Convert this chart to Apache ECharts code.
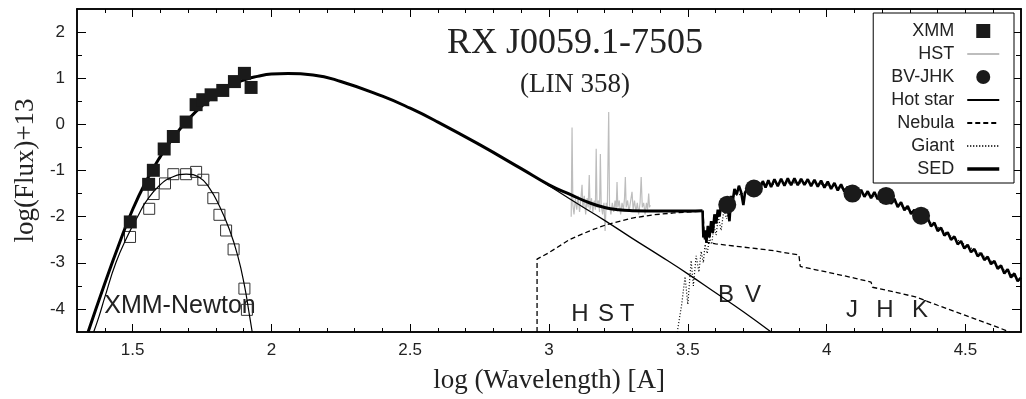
<!DOCTYPE html>
<html>
<head>
<meta charset="utf-8">
<script src="https://cdn.jsdelivr.net/npm/echarts@6/dist/echarts.min.js"></script>
<style>
html, body { margin: 0; padding: 0; background: #fff; }
#chart { width: 1026px; height: 399px; }
</style>
</head>
<body>
<div id="chart"></div>
<script>
// axis ticks
const xMajor = [1.5, 2, 2.5, 3, 3.5, 4, 4.5];
const xMinor = [1.4, 1.6, 1.7, 1.8, 1.9, 2.1, 2.2, 2.3, 2.4, 2.6, 2.7, 2.8, 2.9, 3.1, 3.2, 3.3, 3.4,
                3.6, 3.7, 3.8, 3.9, 4.1, 4.2, 4.3, 4.4, 4.6];
const yMajor = [-4, -3, -2, -1, 0, 1, 2];
const yMinor = [-3.5, -2.5, -1.5, -0.5, 0.5, 1.5];

// XMM points (filled = dereddened, open = observed)
const xmmFilled = [[1.492, -2.115], [1.558, -1.30], [1.575, -0.996], [1.614, -0.534], [1.647, -0.263],
                   [1.693, 0.05], [1.729, 0.427], [1.753, 0.534], [1.783, 0.64], [1.825, 0.735],
                   [1.867, 0.927], [1.903, 1.105], [1.927, 0.80]];
const xmmOpen = [[1.491, -2.44], [1.560, -1.83], [1.576, -1.51], [1.617, -1.28], [1.647, -1.08],
                 [1.693, -1.08], [1.729, -1.03], [1.755, -1.20], [1.791, -1.60], [1.813, -1.96],
                 [1.837, -2.30], [1.864, -2.71], [1.903, -3.56], [1.912, -4.02]];
const xmmModel = [[1.36, -4.5], [1.38, -4.15], [1.40, -3.75], [1.44, -3.0], [1.482, -2.42], [1.52, -1.98],
                  [1.548, -1.68], [1.596, -1.33], [1.644, -1.14], [1.693, -1.08], [1.741, -1.15],
                  [1.777, -1.38], [1.813, -1.77], [1.849, -2.28], [1.879, -2.85], [1.903, -3.49],
                  [1.921, -4.13], [1.931, -4.5]];

// BV-JHK photometry
const bvjhk = [[3.642, -1.74], [3.738, -1.39], [4.093, -1.50], [4.214, -1.55], [4.340, -1.98]];

// model components
const hotStar = [[1.34, -4.5], [1.40, -3.45], [1.45, -2.62], [1.50, -1.85], [1.55, -1.22], [1.60, -0.70],
                 [1.65, -0.26], [1.70, 0.10], [1.75, 0.40], [1.80, 0.64], [1.85, 0.83], [1.90, 0.96],
                 [1.95, 1.04], [2.00, 1.09], [2.06, 1.10], [2.15, 1.07], [2.25, 0.93], [2.40, 0.61],
                 [2.50, 0.35], [2.60, 0.05], [2.75, -0.44], [2.90, -0.96], [3.00, -1.33], [3.10, -1.71],
                 [3.20, -2.08], [3.30, -2.47], [3.40, -2.85], [3.50, -3.24], [3.60, -3.65],
                 [3.70, -4.06], [3.80, -4.5]];
const nebula = [[2.957, -4.5], [2.957, -2.92], [3.0, -2.78], [3.076, -2.49], [3.15, -2.30], [3.209, -2.17],
                [3.30, -2.03], [3.376, -1.96], [3.45, -1.92], [3.555, -1.88], [3.56, -2.55], [3.60, -2.59],
                [3.70, -2.66], [3.80, -2.73], [3.90, -2.83], [3.905, -3.08], [4.00, -3.20], [4.10, -3.33],
                [4.16, -3.42], [4.165, -3.53], [4.25, -3.64], [4.32, -3.74], [4.40, -3.92], [4.50, -4.14],
                [4.60, -4.36], [4.66, -4.5]];
const giant = [[3.462, -4.5], [3.478, -3.9], [3.490, -3.3], [3.500, -3.9], [3.512, -2.95], [3.520, -3.5],
               [3.530, -2.85], [3.540, -3.2], [3.548, -2.75], [3.556, -3.0], [3.562, -2.6], [3.570, -2.8],
               [3.578, -2.45], [3.586, -2.6], [3.594, -2.2], [3.602, -2.4], [3.610, -2.0], [3.620, -2.3],
               [3.630, -1.85], [3.640, -2.05], [3.652, -1.75], [3.666, -1.55], [3.70, -1.50], [3.75, -1.33],
               [3.85, -1.27], [3.95, -1.27], [4.05, -1.37], [4.15, -1.53], [4.25, -1.71], [4.35, -2.03],
               [4.45, -2.43], [4.55, -2.79], [4.65, -3.2], [4.70, -3.38]];
const sedSmooth = [[1.34, -4.5], [1.40, -3.45], [1.45, -2.62], [1.50, -1.85], [1.55, -1.22], [1.60, -0.70],
                   [1.65, -0.26], [1.70, 0.10], [1.75, 0.40], [1.80, 0.64], [1.85, 0.83], [1.90, 0.96],
                   [1.95, 1.04], [2.00, 1.09], [2.06, 1.10], [2.15, 1.07], [2.25, 0.93], [2.40, 0.61],
                   [2.50, 0.35], [2.60, 0.05], [2.75, -0.44], [2.90, -0.96], [3.00, -1.31], [3.08, -1.53],
                   [3.15, -1.71], [3.20, -1.80], [3.25, -1.85], [3.30, -1.87], [3.40, -1.88], [3.50, -1.88],
                   [3.553, -1.87]];
const sedGiant = [[3.553, -1.87], [3.556, -2.45], [3.562, -2.30], [3.567, -2.55], [3.572, -2.20], [3.578, -2.45],
                  [3.584, -2.10], [3.590, -2.35], [3.596, -1.95], [3.602, -2.15], [3.608, -1.85], [3.614, -2.00],
                  [3.620, -1.75], [3.628, -1.85], [3.636, -1.66], [3.644, -1.80], [3.650, -2.10], [3.656, -1.55],
                  [3.662, -1.65], [3.668, -1.40], [3.676, -1.52], [3.684, -1.33], [3.692, -1.47], [3.700, -1.75],
                  [3.706, -1.48], [3.714, -1.40], [3.722, -1.52], [3.730, -1.34], [3.740, -1.45], [3.750, -1.25],
                  [3.760, -1.40], [3.770, -1.23], [3.780, -1.37], [3.790, -1.21], [3.800, -1.36], [3.812, -1.19],
                  [3.824, -1.34], [3.836, -1.18], [3.848, -1.33], [3.860, -1.17], [3.872, -1.32], [3.884, -1.17],
                  [3.896, -1.32], [3.908, -1.18], [3.920, -1.31], [3.932, -1.19], [3.944, -1.34], [3.956, -1.20],
                  [3.968, -1.35], [3.980, -1.22], [3.992, -1.37], [4.004, -1.24], [4.016, -1.40], [4.028, -1.27],
                  [4.040, -1.43], [4.052, -1.30], [4.064, -1.46], [4.076, -1.35], [4.088, -1.51], [4.100, -1.39],
                  [4.112, -1.54], [4.124, -1.42], [4.136, -1.57], [4.148, -1.45], [4.160, -1.60], [4.172, -1.47],
                  [4.184, -1.62], [4.196, -1.49], [4.208, -1.66], [4.220, -1.54], [4.232, -1.72], [4.244, -1.61],
                  [4.256, -1.79], [4.268, -1.69], [4.280, -1.86], [4.292, -1.77], [4.304, -1.94], [4.316, -1.85],
                  [4.328, -2.02], [4.340, -1.94], [4.352, -2.12], [4.364, -2.03], [4.376, -2.21], [4.388, -2.13],
                  [4.400, -2.31], [4.412, -2.24], [4.424, -2.41], [4.436, -2.34], [4.448, -2.50], [4.460, -2.43],
                  [4.472, -2.60], [4.484, -2.53], [4.496, -2.69], [4.508, -2.61], [4.520, -2.77], [4.532, -2.70],
                  [4.544, -2.86], [4.556, -2.79], [4.568, -2.94], [4.580, -2.87], [4.592, -3.03], [4.604, -2.96],
                  [4.616, -3.13], [4.628, -3.06], [4.640, -3.23], [4.652, -3.14], [4.664, -3.32], [4.676, -3.23],
                  [4.688, -3.40], [4.700, -3.32]];

// HST spectrum (continuum noise + emission lines)
const hst = [[3.080, -2.0], [3.083, -0.07], [3.086, -1.75], [3.090, -1.95], [3.095, -1.6], [3.100, -1.85],
             [3.105, -1.55], [3.110, -1.9], [3.115, -1.6], [3.119, -1.31], [3.122, -1.8], [3.127, -1.55],
             [3.132, -1.95], [3.137, -1.6], [3.141, -1.8], [3.145, -1.10], [3.148, -1.85], [3.153, -1.6],
             [3.158, -1.9], [3.163, -1.65], [3.167, -1.85], [3.170, -0.53], [3.173, -1.8], [3.178, -1.65],
             [3.182, -1.9], [3.185, -0.64], [3.188, -1.75], [3.193, -1.95], [3.198, -1.7], [3.202, -2.31],
             [3.206, -1.7], [3.210, -1.85], [3.215, 0.27], [3.218, -1.75], [3.223, -1.95], [3.228, -1.7],
             [3.233, -1.9], [3.238, -1.65], [3.242, -1.85], [3.245, -1.25], [3.248, -1.8], [3.253, -1.65],
             [3.258, -1.95], [3.263, -1.7], [3.268, -1.85], [3.272, -1.6], [3.275, -1.14], [3.278, -1.8],
             [3.283, -1.65], [3.288, -1.9], [3.293, -1.7], [3.299, -1.46], [3.303, -1.85], [3.308, -1.65],
             [3.313, -1.9], [3.318, -1.7], [3.323, -1.95], [3.328, -1.7], [3.332, -1.14], [3.336, -1.8],
             [3.341, -1.7], [3.346, -1.95], [3.351, -1.7], [3.355, -1.85], [3.359, -1.50], [3.362, -1.8],
             [3.365, -1.75]];

const legendNames = ['XMM', 'HST', 'BV-JHK', 'Hot star', 'Nebula', 'Giant', 'SED'];

const sans = 'Liberation Sans, Arial, sans-serif';
const serif = 'Liberation Serif, Times New Roman, serif';

function xAx(pos, ticks, len, labels) {
    return {
        type: 'value', position: pos, min: 1.3, max: 4.7,
        axisLine: { show: true, onZero: false, lineStyle: { color: '#000', width: 1.5 } },
        axisTick: { show: true, inside: true, length: len, customValues: ticks, lineStyle: { color: '#000', width: 1 } },
        axisLabel: labels ? { show: true, customValues: ticks, margin: 10, fontSize: 17, fontFamily: sans, color: '#222' }
                          : { show: false },
        splitLine: { show: false }
    };
}
function yAx(pos, ticks, len, labels) {
    return {
        type: 'value', position: pos, min: -4.5, max: 2.5,
        axisLine: { show: true, onZero: false, lineStyle: { color: '#000', width: 1.5 } },
        axisTick: { show: true, inside: true, length: len, customValues: ticks, lineStyle: { color: '#000', width: 1 } },
        axisLabel: labels ? { show: true, customValues: ticks, margin: 12, fontSize: 17, fontFamily: sans, color: '#222' }
                          : { show: false },
        splitLine: { show: false }
    };
}

function lineSeries(name, data, style, extra) {
    return Object.assign({
        name: name, type: 'line', data: data, symbol: 'none', showSymbol: false,
        lineStyle: Object.assign({ color: '#000', width: 1.2 }, style),
        itemStyle: { color: style.color || '#000' },
        emphasis: { disabled: true }
    }, extra || {});
}

function label(text, x, y, size, family) {
    return {
        type: 'text', x: x, y: y,
        style: { text: text, fontSize: size, fontFamily: family || sans, fill: '#222',
                 align: 'center', verticalAlign: 'middle', textAlign: 'center', textVerticalAlign: 'middle' }
    };
}

// line-type legend entries: hide the default marker dot
const legendData = legendNames.map(n => {
    if (n === 'XMM') return { name: n, icon: 'path://M0,0L10,0L10,10L0,10Z' };
    if (n === 'BV-JHK') return { name: n };
    if (n === 'SED') return { name: n, itemStyle: { opacity: 0 }, lineStyle: { width: 3.5 } };
    return { name: n, itemStyle: { opacity: 0 } };
});

let chart = echarts.init(document.getElementById('chart'));
let option = {
    animation: false,
    backgroundColor: '#fff',
    grid: { left: 77, right: 5, top: 9, bottom: 61 },
    xAxis: [
        Object.assign(xAx('bottom', xMajor, 8, true), {
            name: 'log (Wavelength) [A]', nameLocation: 'middle', nameGap: 35,
            nameTextStyle: { fontFamily: serif, fontSize: 27, color: '#222' }
        }),
        xAx('bottom', xMinor, 4, false),
        xAx('top', xMajor, 8, false),
        xAx('top', xMinor, 4, false)
    ],
    yAxis: [
        Object.assign(yAx('left', yMajor, 9, true), {
            name: 'log(Flux)+13', nameLocation: 'middle', nameGap: 37, nameRotate: 90,
            nameTextStyle: { fontFamily: serif, fontSize: 27, color: '#222' }
        }),
        yAx('left', yMinor, 5, false),
        yAx('right', yMajor, 9, false),
        yAx('right', yMinor, 5, false)
    ],
    legend: {
        data: legendData,
        orient: 'vertical', right: 12, top: 13, align: 'right',
        itemWidth: 32, itemHeight: 14, itemGap: 5,
        backgroundColor: '#fff', borderColor: '#000', borderWidth: 1, borderRadius: 0,
        padding: [9, 13, 5, 18],
        textStyle: { fontSize: 18, fontFamily: sans, color: '#222', padding: [0, 8, 0, 0] },
        selectedMode: false
    },
    graphic: [
        label('RX J0059.1-7505', 575, 44, 36, serif),
        label('(LIN 358)', 575, 85, 27, serif),
        label('XMM-Newton', 180, 306, 25),
        label('H', 580, 314, 24),
        label('S', 606, 314, 24),
        label('T', 627, 314, 24),
        label('B', 726, 295, 24),
        label('V', 753, 295, 24),
        label('J', 852, 310, 24),
        label('H', 885, 310, 24),
        label('K', 920, 310, 24)
    ],
    series: [
        lineSeries('HST', hst, { color: '#bdbdbd', width: 1.2 }, { z: 1 }),
        lineSeries('Nebula', nebula, { width: 1.3, type: [5, 3] }, { z: 2 }),
        lineSeries('Giant', giant, { width: 1.2, type: [1, 2] }, { z: 2 }),
        lineSeries('Hot star', hotStar, { width: 1.3 }, { smooth: true, z: 3 }),
        lineSeries('XMM model', xmmModel, { width: 1.2 }, { smooth: true, z: 4 }),
        lineSeries('SED', sedSmooth, { width: 3 }, { smooth: true, z: 5 }),
        lineSeries('SED', sedGiant, { width: 2.6 }, { z: 5 }),
        {
            name: 'XMM (obs)', type: 'scatter', data: xmmOpen, symbol: 'rect', symbolSize: 11, z: 3,
            itemStyle: { color: 'rgba(0,0,0,0)', borderColor: '#333', borderWidth: 1, opacity: 1 }
        },
        {
            name: 'XMM', type: 'scatter', data: xmmFilled, symbol: 'rect', symbolSize: 13, z: 6,
            itemStyle: { color: '#1a1a1a', opacity: 1 }
        },
        {
            name: 'BV-JHK', type: 'scatter', data: bvjhk, symbol: 'circle', symbolSize: 18, z: 6,
            itemStyle: { color: '#1a1a1a', opacity: 1 }
        }
    ]
};
option && chart.setOption(option);
</script>
</body>
</html>
